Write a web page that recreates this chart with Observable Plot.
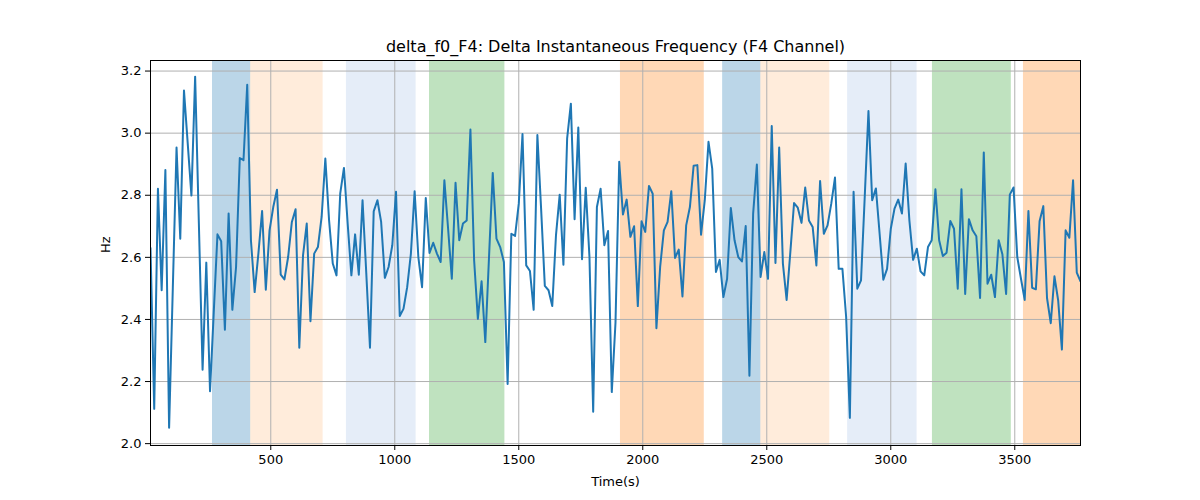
<!DOCTYPE html>
<html>
<head>
<meta charset="utf-8">
<script src="https://cdn.jsdelivr.net/npm/d3@7"></script>
<script src="https://cdn.jsdelivr.net/npm/@observablehq/plot@0.6"></script>
<style>
  html, body { margin: 0; padding: 0; background: #fff; }
  #chart { width: 1200px; height: 500px; }
</style>
</head>
<body>
<div id="chart"></div>
<script>
const titleText = "delta_f0_F4: Delta Instantaneous Frequency (F4 Channel)";
const xLabel = "Time(s)";
const yLabel = "Hz";

const times = [
  15,30,45,60,75,90,105,120,135,150,165,180,195,210,225,240,255,270,285,300,
  315,330,345,360,375,390,405,420,435,450,465,480,495,510,525,540,555,570,585,600,
  615,630,645,660,675,690,705,720,735,750,765,780,795,810,825,840,855,870,885,900,
  915,930,945,960,975,990,1005,1020,1035,1050,1065,1080,1095,1110,1125,1140,1155,1170,1185,1200,
  1215,1230,1245,1260,1275,1290,1305,1320,1335,1350,1365,1380,1395,1410,1425,1440,1455,1470,1485,1500,
  1515,1530,1545,1560,1575,1590,1605,1620,1635,1650,1665,1680,1695,1710,1725,1740,1755,1770,1785,1800,
  1815,1830,1845,1860,1875,1890,1905,1920,1935,1950,1965,1980,1995,2010,2025,2040,2055,2070,2085,2100,
  2115,2130,2145,2160,2175,2190,2205,2220,2235,2250,2265,2280,2295,2310,2325,2340,2355,2370,2385,2400,
  2415,2430,2445,2460,2475,2490,2505,2520,2535,2550,2565,2580,2595,2610,2625,2640,2655,2670,2685,2700,
  2715,2730,2745,2760,2775,2790,2805,2820,2835,2850,2865,2880,2895,2910,2925,2940,2955,2970,2985,3000,
  3015,3030,3045,3060,3075,3090,3105,3120,3135,3150,3165,3180,3195,3210,3225,3240,3255,3270,3285,3300,
  3315,3330,3345,3360,3375,3390,3405,3420,3435,3450,3465,3480,3495,3510,3525,3540,3555,3570,3585,3600,
  3615,3630,3645,3660,3675,3690,3705,3720,3735,3750,3765
];

const values = [
  2.63,2.112,2.821,2.494,2.881,2.051,2.502,2.954,2.660,3.137,2.968,2.799,3.182,2.710,2.238,2.583,2.169,2.422,2.674,2.652,
  2.367,2.741,2.431,2.569,2.920,2.913,3.156,2.655,2.488,2.612,2.749,2.496,2.687,2.762,2.818,2.544,2.529,2.601,2.714,2.755,
  2.309,2.606,2.709,2.394,2.612,2.633,2.730,2.918,2.72,2.580,2.542,2.805,2.888,2.709,2.542,2.674,2.544,2.784,2.55,2.309,
  2.748,2.784,2.714,2.534,2.569,2.639,2.811,2.411,2.434,2.504,2.612,2.813,2.601,2.504,2.791,2.614,2.647,2.612,2.585,2.848,
  2.692,2.531,2.840,2.655,2.709,2.719,3.012,2.590,2.402,2.523,2.327,2.601,2.872,2.660,2.633,2.585,2.192,2.676,2.669,2.773,
  2.997,2.574,2.556,2.431,2.994,2.757,2.508,2.494,2.443,2.671,2.802,2.576,2.983,3.095,2.723,3.018,2.594,2.824,2.601,2.103,
  2.762,2.821,2.639,2.685,2.166,2.39,2.908,2.738,2.786,2.666,2.700,2.443,2.716,2.682,2.830,2.805,2.372,2.569,2.687,2.714,
  2.813,2.598,2.625,2.474,2.703,2.762,2.895,2.897,2.673,2.784,2.972,2.886,2.553,2.592,2.472,2.531,2.759,2.655,2.601,2.587,
  2.701,2.219,2.741,2.899,2.537,2.617,2.531,3.023,2.582,2.954,2.580,2.463,2.617,2.775,2.760,2.711,2.825,2.719,2.698,2.574,
  2.846,2.676,2.703,2.773,2.857,2.563,2.563,2.408,2.083,2.811,2.499,2.526,2.795,3.071,2.784,2.822,2.676,2.528,2.563,2.692,
  2.757,2.786,2.741,2.902,2.719,2.592,2.628,2.555,2.542,2.633,2.655,2.819,2.655,2.604,2.615,2.717,2.692,2.499,2.819,2.482,
  2.723,2.687,2.668,2.469,2.938,2.515,2.544,2.472,2.655,2.610,2.482,2.802,2.825,2.601,2.531,2.463,2.749,2.502,2.497,2.716,
  2.765,2.469,2.388,2.539,2.461,2.303,2.687,2.663,2.848,2.551,2.523
];

const spanStarts = [265, 419, 805, 1140, 1910, 2322, 2476, 2826, 3168, 3535];
const spanEnds   = [419, 711, 1086, 1444, 2248, 2476, 2754, 3106, 3486, 3765];
const spanKinds  = ["k1", "k2", "k3", "k4", "k5", "k1", "k2", "k3", "k4", "k5"];

const xTicks = [500, 1000, 1500, 2000, 2500, 3000, 3500];
const yTicks = [2.0, 2.2, 2.4, 2.6, 2.8, 3.0, 3.2];

// styles (kept separate from data)
const kindFill = { k1: "#1f77b4", k2: "#ff7f0e", k3: "#6f9bd8", k4: "#2ca02c", k5: "#ff7f0e" };
const kindOpacity = { k1: 0.3, k2: 0.15, k3: 0.18, k4: 0.3, k5: 0.3 };

const series = times.map((t, i) => ({ t, v: values[i] }));
const spans = spanStarts.map((s, i) => ({ x1: s, x2: spanEnds[i], kind: spanKinds[i] }));

const chart = Plot.plot({
  width: 1200,
  height: 500,
  marginLeft: 150,
  marginRight: 120,
  marginTop: 60,
  marginBottom: 55,
  style: { fontFamily: "DejaVu Sans, sans-serif", fontSize: "13px", background: "#fff", color: "#000" },
  x: { domain: [15, 3765], label: null },
  y: { domain: [1.994, 3.234], label: null },
  marks: [
    Plot.rect(spans, {
      x1: "x1", x2: "x2",
      fill: d => kindFill[d.kind],
      fillOpacity: d => kindOpacity[d.kind]
    }),
    Plot.gridX(xTicks, { stroke: "#b0b0b0", strokeOpacity: 1, strokeWidth: 1 }),
    Plot.gridY(yTicks, { stroke: "#b0b0b0", strokeOpacity: 1, strokeWidth: 1 }),
    Plot.line(series, { x: "t", y: "v", stroke: "#1f77b4", strokeWidth: 2, clip: true }),
    Plot.frame({ stroke: "#000", strokeWidth: 1 }),
    Plot.axisX(xTicks, { tickSize: 5, tickPadding: 4, fontSize: 13, label: null, tickFormat: d3.format("d") }),
    Plot.axisY(yTicks, { tickSize: 5, tickPadding: 4, fontSize: 13, label: null, tickFormat: d3.format(".1f") }),
    Plot.text([titleText], { text: d => d, frameAnchor: "top", lineAnchor: "middle", dy: -14, fontSize: 16 }),
    Plot.text([xLabel], { text: d => d, frameAnchor: "bottom", lineAnchor: "middle", dy: 36, fontSize: 13 }),
    Plot.text([yLabel], { text: d => d, frameAnchor: "left", lineAnchor: "middle", dx: -45, rotate: -90, fontSize: 13 })
  ]
});

document.getElementById("chart").appendChild(chart);
</script>
</body>
</html>
